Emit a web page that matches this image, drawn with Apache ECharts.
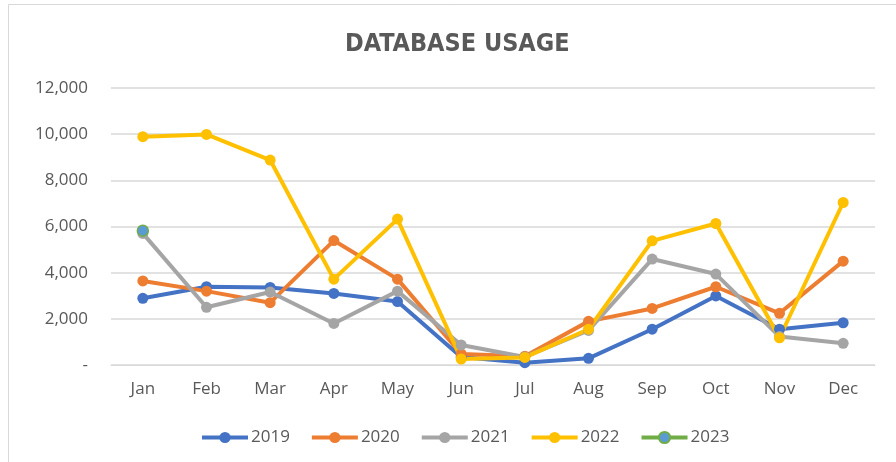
<!DOCTYPE html>
<html>
<head>
<meta charset="utf-8">
<script src="https://cdn.jsdelivr.net/npm/echarts@6/dist/echarts.min.js"></script>
<style>
  html, body { margin: 0; padding: 0; background: #fff; }
  #main { width: 896px; height: 462px; }
</style>
</head>
<body>
<div id="main"></div>
<script>
// 数据
const months = ['Jan', 'Feb', 'Mar', 'Apr', 'May', 'Jun', 'Jul', 'Aug', 'Sep', 'Oct', 'Nov', 'Dec']
const y2019 = [2890, 3390, 3360, 3100, 2750, 350, 100, 290, 1550, 2990, 1550, 1830]
const y2020 = [3640, 3200, 2700, 5390, 3720, 480, 380, 1890, 2450, 3390, 2240, 4500]
const y2021 = [5700, 2500, 3160, 1800, 3200, 870, 350, 1500, 4590, 3940, 1230, 940]
const y2022 = [9890, 9990, 8880, 3720, 6320, 260, 330, 1550, 5380, 6130, 1180, 7040]
const y2023 = [5820, null, null, null, null, null, null, null, null, null, null, null]
const yTicks = [0, 2000, 4000, 6000, 8000, 10000, 12000]

const font = 'Open Sans'
const chartDom = document.getElementById('main')
const myChart = echarts.init(chartDom)

const makeSeries = (name, data, color, fill) => ({
  name: name,
  type: 'line',
  data: data,
  symbol: 'circle',
  symbolSize: 11,
  showAllSymbol: true,
  connectNulls: false,
  lineStyle: { width: 4, color: color },
  itemStyle: { color: fill || color, borderColor: color, borderWidth: fill ? 1.5 : 0 },
  emphasis: { disabled: true },
})

const option = {
  animation: false,
  backgroundColor: '#fff',
  graphic: [
    {
      type: 'rect',
      shape: { x: 8.5, y: 4.5, width: 900, height: 470 },
      style: { fill: 'none', stroke: '#D9D9D9', lineWidth: 1 },
      silent: true,
    },
  ],
  title: {
    text: 'DATABASE USAGE',
    left: 340,
    top: 27,
    textStyle: { fontFamily: 'DejaVu Sans Condensed', fontSize: 25, fontWeight: 'bold', color: '#595959' },
  },
  grid: { left: 111, right: 21, top: 88, bottom: 97 },
  legend: {
    top: 424,
    left: 195,
    itemWidth: 46,
    itemHeight: 14,
    itemGap: 20,
    lineStyle: { width: 4 },
    textStyle: { fontFamily: font, fontSize: 17, color: '#595959', padding: [0, 0, 0, -2] },
    data: ['2019', '2020', '2021', '2022', '2023'],
  },
  xAxis: {
    type: 'category',
    data: months,
    boundaryGap: true,
    axisLine: { lineStyle: { color: '#D9D9D9', width: 1 } },
    axisTick: { show: false },
    axisLabel: { fontFamily: font, fontSize: 17, color: '#595959', margin: 16 },
  },
  yAxis: {
    type: 'value',
    min: yTicks[0],
    max: yTicks[yTicks.length - 1],
    interval: 2000,
    axisLine: { show: false },
    axisTick: { show: false },
    splitLine: { lineStyle: { color: '#D9D9D9', width: 1.5 } },
    axisLabel: {
      fontFamily: font,
      fontSize: 17,
      color: '#595959',
      margin: 23,
      formatter: (v) => (v === 0 ? '-' : v.toLocaleString('en-US')),
    },
  },
  series: [
    makeSeries('2019', y2019, '#4472C4'),
    makeSeries('2020', y2020, '#ED7D31'),
    makeSeries('2021', y2021, '#A5A5A5'),
    makeSeries('2022', y2022, '#FFC000'),
    makeSeries('2023', y2023, '#70AD47', '#5B9BD5'),
  ],
}
option && myChart.setOption(option)
</script>
</body>
</html>
